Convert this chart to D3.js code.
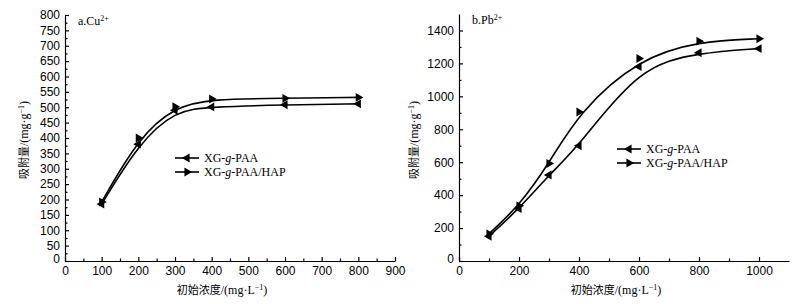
<!DOCTYPE html>
<html>
<head>
<meta charset="utf-8">
<script src="https://cdn.jsdelivr.net/npm/d3@7"></script>
<style>
  body { margin: 0; background: #fff; }
  svg { display: block; font-family: "Liberation Serif", "DejaVu Serif", serif; }
  .axis path, .axis line { stroke: #000; stroke-width: 1.2; }
  .axis text { font-size: 12px; fill: #000; }
  .title { font-size: 12px; font-family: "Liberation Serif", "Noto Sans CJK SC", serif; }
  .curve { fill: none; stroke: #000; stroke-width: 1.6; }
</style>
</head>
<body>
<div id="chart"></div>
<script>
const seriesNames = ["XG-g-PAA", "XG-g-PAA/HAP"];

// a. Cu2+
const cuConc = [100, 200, 300, 400, 600, 800];
const cuPAA = [185, 380, 490, 501, 508, 511];
const cuHAP = [192, 400, 502, 527, 529, 532];
const cuXTicks = [0, 100, 200, 300, 400, 500, 600, 700, 800, 900];
const cuYTicks = [0, 50, 100, 150, 200, 250, 300, 350, 400, 450, 500, 550, 600, 650, 700, 750, 800];

// b. Pb2+
const pbConc = [100, 200, 300, 400, 600, 800, 1000];
const pbPAA = [150, 318, 522, 700, 1180, 1265, 1290];
const pbHAP = [165, 335, 592, 905, 1230, 1335, 1350];
const pbXTicks = [0, 200, 400, 600, 800, 1000];
const pbYTicks = [0, 200, 400, 600, 800, 1000, 1200, 1400];

const width = 799, height = 304;
const svg = d3.select("#chart").append("svg")
  .attr("width", width).attr("height", height);

function drawPanel(opt) {
  const x = d3.scaleLinear().domain(opt.xDomain).range([opt.left, opt.right]);
  const y = d3.scaleLinear().domain(opt.yDomain).range([opt.bottom, opt.top]);
  const g = svg.append("g");
  const fmt = d3.format("d");

  // minor ticks
  g.append("g").attr("class", "axis")
    .attr("transform", `translate(0,${opt.bottom})`)
    .call(d3.axisBottom(x).tickValues(opt.xMinor).tickSize(-2.5).tickFormat(""))
    .call((s) => s.select(".domain").remove());
  g.append("g").attr("class", "axis")
    .attr("transform", `translate(${opt.left},0)`)
    .call(d3.axisLeft(y).tickValues(opt.yMinor).tickSize(-2.5).tickFormat(""))
    .call((s) => s.select(".domain").remove());

  const xAxis = g.append("g").attr("class", "axis")
    .attr("transform", `translate(0,${opt.bottom})`)
    .call(d3.axisBottom(x).tickValues(opt.xTicks).tickFormat(fmt).tickSizeInner(-4).tickSizeOuter(0).tickPadding(3));
  xAxis.selectAll(".tick text").attr("dy", "0.9em");

  const yAxis = g.append("g").attr("class", "axis")
    .attr("transform", `translate(${opt.left},0)`)
    .call(d3.axisLeft(y).tickValues(opt.yTicks).tickFormat(fmt).tickSizeInner(-4).tickSizeOuter(0).tickPadding(4));
  yAxis.selectAll(".tick text").attr("x", -5);
  yAxis.selectAll(".tick").filter((d) => d === 0).select("text").attr("dy", "0.1em");

  // curves
  const line = d3.line().curve(d3.curveBasis)
    .x((d) => x(d[0])).y((d) => y(d[1]));
  const marker = d3.symbol().type(d3.symbolTriangle).size(34);

  opt.series.forEach((s) => {
    const pts = opt.conc.map((c, i) => [c, s.values[i]]);
    g.append("path").datum(pts).attr("class", "curve").attr("d", line);
    g.selectAll(null).data(pts).enter().append("path")
      .attr("d", marker)
      .attr("transform", (d) => `translate(${x(d[0])},${y(d[1])}) rotate(${s.dir === "left" ? -90 : 90})`)
      .attr("fill", "#000");
  });

  // panel tag
  g.append("text").attr("class", "title")
    .attr("x", opt.left + 13).attr("y", opt.top + 10)
    .text(opt.tag)
    .append("tspan").attr("dy", -4).attr("font-size", 8).text(opt.tagSup);

  // legend
  opt.series.forEach((s, i) => {
    const ly = opt.legendY + i * 14;
    g.append("line")
      .attr("x1", opt.legendX).attr("x2", opt.legendX + 24)
      .attr("y1", ly).attr("y2", ly)
      .attr("stroke", "#000").attr("stroke-width", 1.6);
    g.append("path").attr("d", marker)
      .attr("transform", `translate(${opt.legendX + 12},${ly}) rotate(${s.dir === "left" ? -90 : 90})`)
      .attr("fill", "#000");
    const parts = s.name.split("-g-");
    const t = g.append("text").attr("class", "title")
      .attr("x", opt.legendX + 29).attr("y", ly + 4);
    t.append("tspan").text(parts[0] + "-");
    t.append("tspan").attr("font-style", "italic").text("g");
    t.append("tspan").text("-" + parts[1]);
  });

  // axis titles
  const xt = g.append("text").attr("class", "title")
    .attr("x", (opt.left + opt.right) / 2 - 8).attr("y", opt.bottom + 33)
    .attr("text-anchor", "middle");
  xt.append("tspan").attr("font-family", "Noto Sans CJK SC").attr("font-size", 11).text("初始浓度");
  xt.append("tspan").text("/(mg·L");
  xt.append("tspan").attr("dy", -4).attr("font-size", 8).text("−1");
  xt.append("tspan").attr("dy", 4).text(")");

  const yt = g.append("text").attr("class", "title")
    .attr("transform", `translate(${opt.yTitleX},${opt.yTitleY}) rotate(-90)`)
    .attr("text-anchor", "middle");
  yt.append("tspan").attr("font-family", "Noto Sans CJK SC").attr("font-size", 11).text("吸附量");
  yt.append("tspan").text("/(mg·g");
  yt.append("tspan").attr("dy", -4).attr("font-size", 8).text("−1");
  yt.append("tspan").attr("dy", 4).text(")");
}

drawPanel({
  left: 65, right: 395, top: 15, bottom: 261,
  xDomain: [0, 900], yDomain: [0, 800],
  xTicks: cuXTicks, yTicks: cuYTicks,
  xMinor: d3.range(50, 900, 100), yMinor: d3.range(25, 800, 50),
  conc: cuConc,
  series: [
    { name: seriesNames[0], values: cuPAA, dir: "left" },
    { name: seriesNames[1], values: cuHAP, dir: "right" }
  ],
  tag: "a.Cu", tagSup: "2+",
  legendX: 175, legendY: 158,
  yTitleX: 28, yTitleY: 140
});

drawPanel({
  left: 459, right: 789, top: 14, bottom: 261,
  xDomain: [0, 1100], yDomain: [0, 1500],
  xTicks: pbXTicks, yTicks: pbYTicks,
  xMinor: d3.range(100, 1100, 200), yMinor: d3.range(100, 1500, 200),
  conc: pbConc,
  series: [
    { name: seriesNames[0], values: pbPAA, dir: "left" },
    { name: seriesNames[1], values: pbHAP, dir: "right" }
  ],
  tag: "b.Pb", tagSup: "2+",
  legendX: 617, legendY: 149,
  yTitleX: 418, yTitleY: 140
});
</script>
</body>
</html>
